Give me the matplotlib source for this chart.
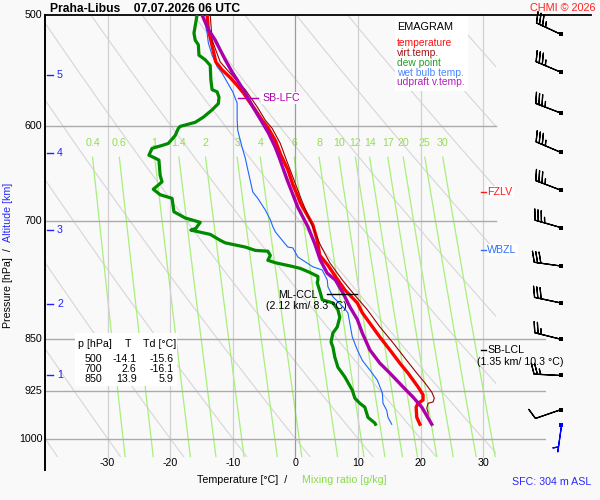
import numpy as np
import matplotlib
matplotlib.use("Agg")
import matplotlib.pyplot as plt
import matplotlib.transforms as mtransforms
from matplotlib.patches import Rectangle

plt.rcParams['font.family'] = ['Liberation Sans', 'DejaVu Sans']

# ---------------- data ----------------
title_text = "Praha-Libus    07.07.2026 06 UTC"

temp_p = [500, 512, 540, 547, 554, 561, 568, 575, 584, 594, 601, 614, 629, 644, 660, 671, 680,
          705, 723, 741, 753, 771.5, 784, 801, 814, 828, 847, 865, 884, 898.5, 919, 931, 939,
          944, 950, 966, 977]
temp_t = [-14.1, -13.9, -12.7, -11.7, -10.4, -9.3, -8.3, -7.5, -6.4, -5.3, -4.4, -3.2, -2.3, -1.2,
          -0.4, 0.3, 0.8, 2.8, 3.5, 3.9, 5.2, 6.8, 7.9, 9.9, 10.7, 11.9, 13.5, 15.1, 16.7, 18.0,
          19.6, 20.4, 20.4, 19.6, 19.3, 19.4, 19.9]

virt_p = [500, 521, 540, 552, 565, 582, 594, 602, 617, 631, 650, 666, 677, 727, 750, 771.5, 788,
          810, 833, 855, 880, 898.5, 913, 927, 936, 942, 944, 951.5, 958, 966, 977]
virt_t = [-13.6, -13.3, -12.0, -10.1, -8.0, -6.0, -4.8, -3.7, -2.4, -1.6, -0.5, 0.4, 1.0, 3.9,
          5.5, 7.5, 9.2, 11.5, 13.5, 15.6, 17.8, 19.4, 20.7, 21.8, 22.2, 22.0, 21.2, 21.0, 21.2,
          21.2, 21.8]

dew_p = [500, 515, 521, 525, 534, 538, 543, 556, 565, 567, 572, 578, 584, 591, 596, 600, 602, 609,
         617, 619, 622, 629, 632, 634, 650, 657, 665, 671, 675, 690, 697, 702, 709, 711, 716, 723,
         726, 731, 735, 736, 741, 747, 750, 754, 757, 762, 767, 771.5, 775, 788, 797, 801, 810,
         820, 833, 841.5, 854, 861, 875, 890, 904, 924, 936, 944, 950, 966, 975, 977]
dew_t = [-15.7, -16.2, -16.0, -15.5, -15.4, -14.4, -13.6, -13.5, -13.3, -12.5, -12.2, -12.3,
         -13.3, -14.7, -16.0, -18.4, -18.7, -19.2, -20.3, -21.3, -22.9, -23.4, -22.4, -21.8,
         -21.6, -21.3, -22.7, -21.6, -19.7, -19.4, -17.6, -15.2, -15.9, -16.7, -13.6, -12.0,
         -11.2, -8.0, -6.4, -4.4, -4.0, -4.4, -3.2, -0.8, 0.8, 2.3, 3.6, 3.6, 3.5, 4.0, 4.3, 6.0,
         6.8, 7.1, 6.7, 6.0, 5.7, 6.0, 6.3, 6.8, 7.9, 9.1, 9.5, 10.3, 11.1, 11.6, 12.7, 12.8]

wb_p = [500, 515, 523.5, 534, 544, 550, 559, 567, 577.5, 594, 604, 621, 632, 644, 668, 675, 688,
        699, 707, 713, 723, 731, 732, 743, 755, 759, 771.5, 780, 793, 806, 814, 828, 847, 865,
        880, 894, 909, 928, 944, 955, 966, 977]
wb_t = [-14.7, -14.1, -13.9, -13.3, -12.5, -11.7, -10.8, -10.0, -9.3, -9.3, -9.2, -8.5, -8.0,
        -7.6, -6.8, -6.0, -4.8, -4.0, -3.6, -3.2, -2.1, -1.2, -0.4, 0.4, 2.8, 4.3, 5.1, 5.2, 6.0,
        7.6, 8.4, 8.7, 9.1, 9.9, 10.7, 11.9, 13.1, 13.9, 14.0, 14.6, 14.8, 15.4]

upd_p = [500, 512, 521, 529.5, 538, 549, 556, 568, 581, 594, 606.5, 621, 631, 655, 685, 707, 727,
         747, 763, 771.5, 788, 806, 823, 841.5, 865, 884, 898.5, 919, 934.5, 950, 977]
upd_t = [-14.9, -13.9, -12.8, -12.0, -11.2, -10.1, -9.3, -8.0, -6.8, -5.5, -4.3, -3.2, -2.6,
         -1.3, 0.4, 2.0, 3.1, 4.0, 5.1, 6.4, 7.6, 8.7, 9.9, 10.7, 11.9, 13.5, 15.1, 17.2, 18.8,
         20.2, 21.8]

table_p = [500, 700, 850]
table_T = [-14.1, 2.6, 13.9]
table_Td = [-15.6, -16.1, 5.9]

mixing_ratios = [0.4, 0.6, 1, 1.4, 2, 3, 4, 6, 8, 10, 12, 14, 17, 20, 25, 30]
theta_c = list(range(-40, 101, 10))
isotherms = [-30, -20, -10, 0, 10, 20, 30]
isobars = [600, 700, 850, 925, 1000]
p_ticks = [500, 600, 700, 850, 925, 1000]
t_ticks = [-30, -20, -10, 0, 10, 20, 30]
alt_km = [1, 2, 3, 4, 5]
alt_p = [902, 802, 711, 627, 552]

wind_p = [516, 549, 587, 626, 666, 708, 754, 801, 850, 902, 954]
wind_dir = [295, 293, 291, 293, 291, 286, 278, 282, 284, 273, 251]
wind_kt = [35, 35, 35, 35, 35, 35, 30, 30, 25, 25, 10]
sfc_p, sfc_dir, sfc_kt = 978, 188, 5

lfc_p, lfc_t = 573, -7.5
ccl_p, ccl_t = 789, 8.3
fzlv_p = 668
wbzl_p = 734.5
lcl_p = 865

# ---------------- figure ----------------
BG = '#f9f9f9'
fig = plt.figure(figsize=(6, 5), dpi=100, facecolor=BG)
ax = fig.add_axes([45 / 600, 30 / 500, 500.7 / 600, 455 / 500])
ax.set_yscale('log')
ax.set_xlim(-40, 40)
ax.set_ylim(1052.9, 500)
ax.axis('off')

tpx = mtransforms.Affine2D().scale(1 / 600, -1 / 500).translate(0, 1) + fig.transFigure
bx = mtransforms.blended_transform_factory(tpx, ax.transData)   # x pixel, y pressure
by = mtransforms.blended_transform_factory(ax.transData, tpx)   # x temperature, y pixel

FS = 7.7

def ptxt(x, y, s, fs=FS, ha='left', color='k', **kw):
    ax.text(x, y + 0.358 * fs * 100 / 72, s, transform=tpx, fontsize=fs, ha=ha,
            va='baseline', color=color, clip_on=False, **kw)

# dry adiabats
p_line = np.geomspace(500, 1030, 200)
clip_rect = Rectangle((-40, 500), 72.1, 530, transform=ax.transData)
for th in theta_c:
    T = (th + 273.15) * (p_line / 1000.0) ** 0.2857 - 273.15
    ln, = ax.plot(T, p_line, color='#d6d6d6', lw=0.8, zorder=1)
    ln.set_clip_path(clip_rect)

# mixing ratio lines
p_mr = np.geomspace(631, 1030, 100)
for w in mixing_ratios:
    e = w * p_mr / (622.0 + w)
    le = np.log(e / 6.112)
    T = 243.5 * le / (17.67 - le)
    ax.plot(T, p_mr, color='#a8ef7c', lw=0.9, zorder=2)
    ax.text(T[0], 143.5, f'{w:g}', transform=by, fontsize=FS, ha='center', va='center',
            color='#97dc52', clip_on=False)

# isotherms
for t in isotherms:
    ax.plot([t, t], [500, 1030], color='#9c9c9c' if t == 0 else '#d0d0d0', lw=0.9, zorder=3)

# isobars
for p in isobars:
    ax.plot([-40, 32.1 if p < 830 else 40.2], [p, p], color='#ababab', lw=1.0, zorder=3)

# frame lines
ax.plot([45, 591], [15, 15], transform=tpx, color='k', lw=1.3, clip_on=False, zorder=4)
ax.plot([45, 45], [15, 470], transform=tpx, color='k', lw=1.4, clip_on=False, zorder=4)

# profiles
ax.plot(dew_t, dew_p, color='#008a00', lw=2.3, zorder=6, solid_joinstyle='round')
ax.plot(wb_t, wb_p, color='#1a66ff', lw=0.8, zorder=6)
ax.plot(temp_t, temp_p, color='#ff0000', lw=2.4, zorder=7, solid_joinstyle='round')
ax.plot(virt_t, virt_p, color='#990000', lw=0.8, zorder=8)
ax.plot(upd_t, upd_p, color='#aa00aa', lw=2.4, zorder=9, solid_joinstyle='round')

# pressure tick labels
for p in p_ticks:
    ax.text(42.5, p, str(p), transform=bx, fontsize=FS, ha='right', va='center', clip_on=False)
# temperature tick labels
for t in t_ticks:
    ax.text(t, 462.5, str(t), transform=by, fontsize=FS, ha='center', va='center', clip_on=False)
# altitude ticks
for km, p in zip(alt_km, alt_p):
    ax.plot([47, 53], [p, p], transform=bx, color='#2020ff', lw=1.0, clip_on=False, zorder=5)
    ax.text(57, p, str(km), transform=bx, fontsize=FS, ha='left', va='center',
            color='#2020ff', clip_on=False)

# title & credits
ax.text(50, 11.7, title_text, transform=tpx, fontsize=8.7, fontweight='bold', va='baseline',
        clip_on=False)
ax.text(595.5, 10.8, 'CHMI © 2026', transform=tpx, fontsize=7.8, ha='right', va='baseline',
        color='#ff2020', clip_on=False)

# axis titles
ptxt(197, 479, 'Temperature [°C]  /  ')
ptxt(302, 479, 'Mixing ratio [g/kg]', color='#88dd44')
ptxt(512, 481.5, 'SFC: 304 m ASL', color='#2a2aff')
ax.text(8.5, 183, 'Altitude [km]', transform=tpx, rotation=90, fontsize=FS, ha='center',
        va='top', color='#2a2aff', clip_on=False)
ax.text(8.5, 248.5, 'Pressure [hPa]  /', transform=tpx, rotation=90, fontsize=FS, ha='center',
        va='top', color='k', clip_on=False)

# legend box
ax.add_patch(Rectangle((395, 15.5), 73, 75, transform=tpx, facecolor='white', edgecolor='none',
                       zorder=10, clip_on=False))
ptxt(397, 26, 'EMAGRAM', fs=7.8, zorder=11)
for i, (s, c) in enumerate([('temperature', '#ff1010'), ('virt.temp.', '#a01818'),
                            ('dew point', '#22a022'), ('wet bulb temp.', '#4a86ff'),
                            ('udpraft v.temp.', '#b020b8')]):
    ptxt(397, 42.3 + 9.85 * i, s, fs=7.4, color=c, zorder=11)

# data table
ax.add_patch(Rectangle((75, 333), 102, 53, transform=tpx, facecolor='white', edgecolor='none',
                       zorder=10, clip_on=False))
ptxt(78.3, 343.3, 'p [hPa]', zorder=11)
ptxt(127.7, 343.3, 'T', ha='center', zorder=11)
ptxt(143.3, 343.3, 'Td [°C]', zorder=11)
for i, (p, t, td) in enumerate(zip(table_p, table_T, table_Td)):
    y = 358.3 + 10 * i
    ptxt(102, y, str(p), ha='right', zorder=11)
    ptxt(136.7, y, f'{t:.1f}', ha='right', zorder=11)
    ptxt(173.3, y, f'{td:.1f}', ha='right', zorder=11)

# level annotations
ax.plot([lfc_t - 1.65, lfc_t + 1.6], [lfc_p, lfc_p], color='#b000b0', lw=1.0, zorder=12)
ax.text(262, lfc_p, 'SB-LFC', transform=bx, fontsize=FS, va='center', color='#b000b0',
        zorder=11, clip_on=False,
        bbox=dict(facecolor='white', edgecolor='none', pad=0.6))

for p, lbl, c in [(fzlv_p, 'FZLV', '#ff1a1a'), (wbzl_p, 'WBZL', '#2f6fff')]:
    ax.plot([480.5, 486], [p, p], transform=bx, color=c, lw=1.0, zorder=12, clip_on=False)
    ax.text(487, p, lbl, transform=bx, fontsize=FS, va='center', color=c, zorder=11,
            clip_on=False, bbox=dict(facecolor='white', edgecolor='none', pad=1.0))

ax.plot([481, 486], [lcl_p, lcl_p], transform=bx, color='k', lw=1.0, zorder=12, clip_on=False)
ax.text(487.5, lcl_p, 'SB-LCL', transform=bx, fontsize=FS, va='center', zorder=11, clip_on=False)
ptxt(477, 361.5, '(1.35 km/ 10.3 °C)', zorder=11)

ax.plot([ccl_t - 3.2, ccl_t + 1.6], [ccl_p, ccl_p], color='k', lw=1.0, zorder=12)
ptxt(317.5, 294.5, 'ML-CCL', ha='right', zorder=11)
ptxt(306, 305.5, '(2.12 km/ 8.3 °C)', ha='center', zorder=11)

# wind barbs
wd = np.radians(wind_dir)
ws = np.array(wind_kt, dtype=float)
u = -ws * np.sin(wd)
v = -ws * np.cos(wd)
xb = np.full(len(wind_p), 560.7)
ax.barbs(xb, wind_p, u, v, transform=bx, length=6.2, linewidth=0.9, color='k',
         clip_on=False, zorder=12)
ax.scatter(xb, wind_p, marker='s', s=5, color='k', transform=bx, clip_on=False, zorder=13,
           linewidths=0)
su = -sfc_kt * np.sin(np.radians(sfc_dir))
sv = -sfc_kt * np.cos(np.radians(sfc_dir))
ax.barbs([560.7], [sfc_p], [su], [sv], transform=bx, length=6.2, linewidth=0.9,
         color='#0000ff', clip_on=False, zorder=12)
ax.scatter([560.7], [sfc_p], marker='s', s=5, color='#0000ff', transform=bx, clip_on=False,
           zorder=13, linewidths=0)

fig.savefig('out.png', dpi=100, facecolor=BG)
